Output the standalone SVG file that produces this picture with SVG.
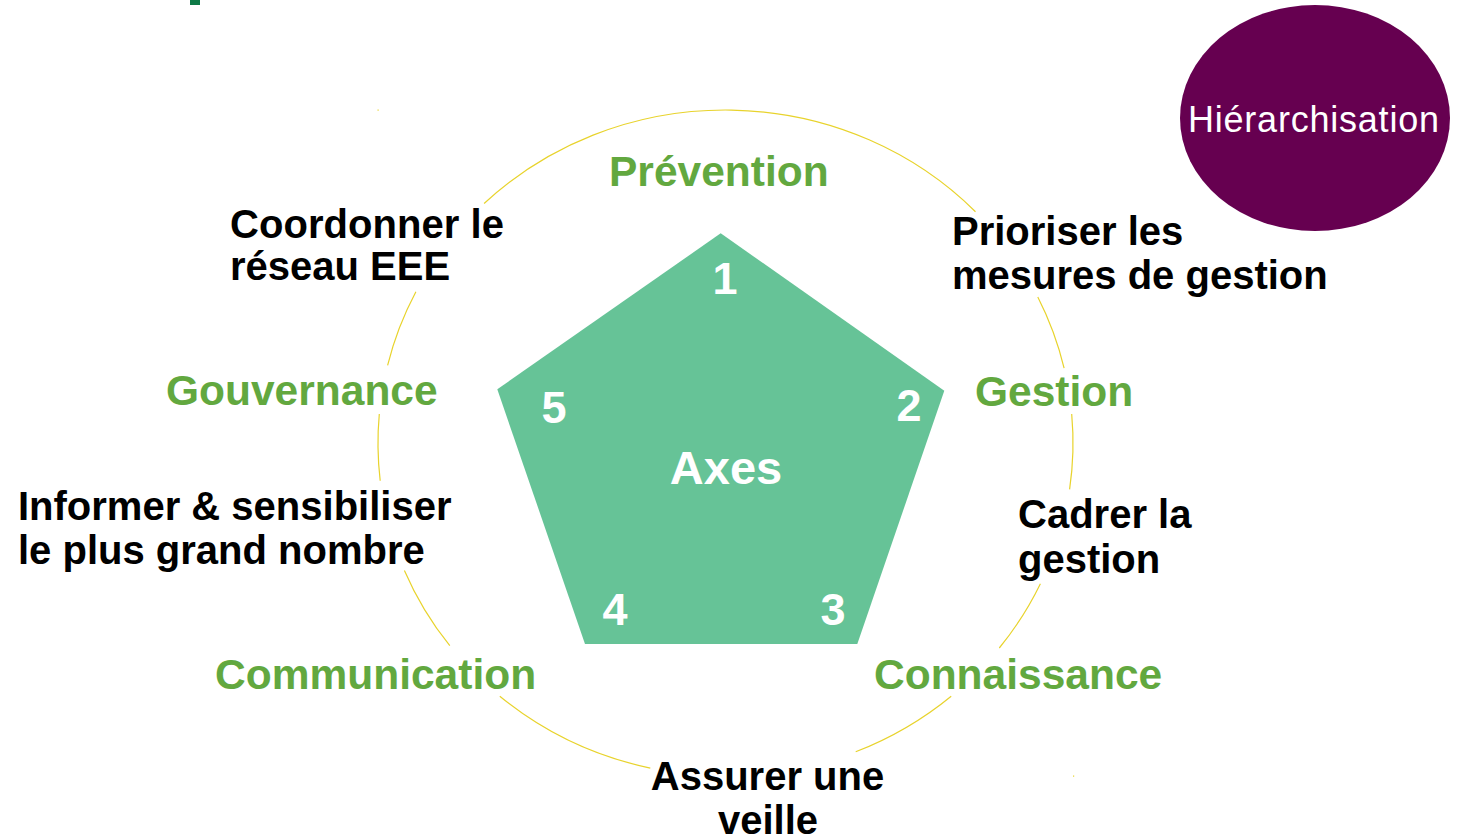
<svg xmlns="http://www.w3.org/2000/svg" width="1457" height="838" viewBox="0 0 1457 838">
  <style>
    .arc { fill: none; stroke: #E8D32C; stroke-width: 1.2; }
    .axis { font-family: "Liberation Sans", Arial, sans-serif; font-weight: bold; font-size: 42.5px; fill: #62A83F; }
    .task { font-family: "Liberation Sans", Arial, sans-serif; font-weight: bold; font-size: 40px; fill: #000000; }
    .num { font-family: "Liberation Sans", Arial, sans-serif; font-weight: bold; font-size: 45px; fill: #FFFFFF; text-anchor: middle; }
    .center { font-family: "Liberation Sans", Arial, sans-serif; font-weight: bold; font-size: 47px; fill: #FFFFFF; text-anchor: middle; }
    .badge { font-family: "Liberation Sans", Arial, sans-serif; font-size: 36px; fill: #FFFFFF; }
  </style>
  <rect width="1457" height="838" fill="#FFFFFF"/>
  <rect x="190" y="0" width="10" height="5" fill="#0E7A47"/>

  <g id="connectors">
    <path class="arc" d="M484.1,203.5 A347.5,333 0 0 1 975.5,211.7"/>
    <path class="arc" d="M1037.8,297.0 A347.5,333 0 0 1 1064.1,368.1"/>
    <path class="arc" d="M1071.7,414.0 A347.5,333 0 0 1 1069.6,489.4"/>
    <path class="arc" d="M1040.4,583.7 A347.5,333 0 0 1 999.3,648.0"/>
    <path class="arc" d="M951.2,696.2 A347.5,333 0 0 1 855.7,751.8"/>
    <path class="arc" d="M650.3,768.1 A347.5,333 0 0 1 499.8,696.2"/>
    <path class="arc" d="M449.8,645.7 A347.5,333 0 0 1 404.4,570.4"/>
    <path class="arc" d="M380.2,480.7 A347.5,333 0 0 1 379.3,414.0"/>
    <path class="arc" d="M387.6,365.3 A347.5,333 0 0 1 415.9,291.8"/>
    <rect x="377.5" y="109.5" width="1.2" height="1.2" fill="#E8D32C"/>
    <rect x="1073" y="775.5" width="1.2" height="1.2" fill="#E8D32C"/>
  </g>

  <g id="axes-pentagon">
    <polygon points="720.7,233.3 944.3,390.7 857.3,644 585,644 497.3,389.3" fill="#66C397"/>
    <text class="center" x="726" y="484">Axes</text>
    <text class="num" x="725" y="294">1</text>
    <text class="num" x="909" y="421">2</text>
    <text class="num" x="833" y="625">3</text>
    <text class="num" x="615" y="625">4</text>
    <text class="num" x="554" y="423">5</text>
  </g>

  <g id="axis-prevention"><text class="axis" x="609" y="186">Prévention</text></g>
  <g id="axis-gestion"><text class="axis" x="975" y="406">Gestion</text></g>
  <g id="axis-connaissance"><text class="axis" x="874" y="689">Connaissance</text></g>
  <g id="axis-communication"><text class="axis" x="215" y="689">Communication</text></g>
  <g id="axis-gouvernance"><text class="axis" x="166" y="405">Gouvernance</text></g>

  <g id="task-coordonner">
    <text class="task" x="230" y="238" textLength="274" lengthAdjust="spacing">Coordonner le</text>
    <text class="task" x="230" y="280">réseau EEE</text>
  </g>
  <g id="task-prioriser">
    <text class="task" x="952" y="245">Prioriser les</text>
    <text class="task" x="952" y="289">mesures de gestion</text>
  </g>
  <g id="task-cadrer">
    <text class="task" x="1018" y="528">Cadrer la</text>
    <text class="task" x="1018" y="573">gestion</text>
  </g>
  <g id="task-veille">
    <text class="task" x="767.5" y="790" text-anchor="middle">Assurer une</text>
    <text class="task" x="768" y="834" text-anchor="middle">veille</text>
  </g>
  <g id="task-informer">
    <text class="task" x="18" y="520">Informer &amp; sensibiliser</text>
    <text class="task" x="18" y="564">le plus grand nombre</text>
  </g>

  <g id="hierarchisation">
    <ellipse cx="1315" cy="118" rx="135" ry="113" fill="#660050"/>
    <text class="badge" x="1188" y="132" textLength="251" lengthAdjust="spacing">Hiérarchisation</text>
  </g>
</svg>
